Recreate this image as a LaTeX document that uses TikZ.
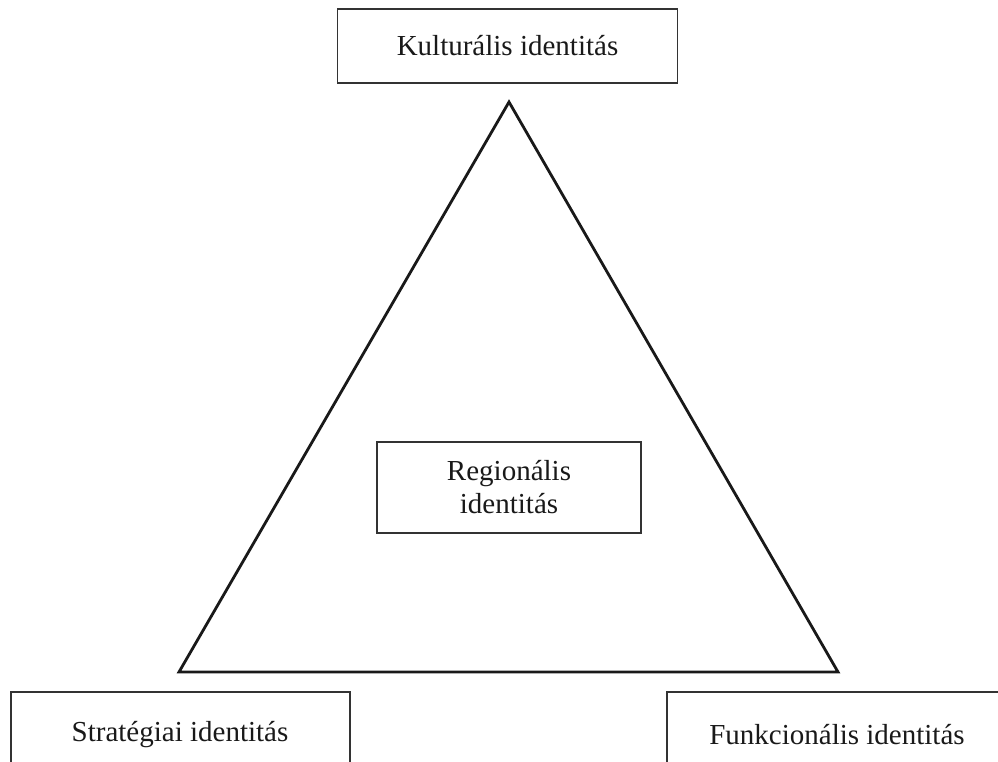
\documentclass[tikz,border=0pt]{standalone}
\usepackage{fontspec}
\setmainfont{Liberation Serif}
\begin{document}
\begin{tikzpicture}[x=1pt,y=-1pt,
  boxline/.style={draw=black!80,line width=1.2pt},
  lbl/.style={font=\fontsize{29}{33}\selectfont,text=black!90,inner sep=0pt,align=center},
  tri/.style={draw=black!90,line width=2.8pt,line join=miter}]
\useasboundingbox (0,0) rectangle (998,762);
% top box
\node[boxline,lbl,minimum width=340,minimum height=74] (kult) at (507.5,46) {Kulturális identitás};
% center box
\node[boxline,lbl,minimum width=264,minimum height=91] (reg) at (509,487.5) {Regionális\\identitás};
% triangle
\coordinate (apex) at (509,102);
\coordinate (bl) at (179,672);
\coordinate (br) at (838,672);
\draw[tri] (apex) -- (bl) -- (br) -- cycle;
% bottom left open box
\coordinate (slb) at (11,762);
\coordinate (slt) at (11,692);
\coordinate (srt) at (350,692);
\coordinate (srb) at (350,762);
\draw[boxline] (slb) -- (slt) -- (srt) -- (srb);
\node[lbl] (strat) at (180,735) {Stratégiai identitás};
% bottom right open box
\coordinate (flb) at (667,762);
\coordinate (flt) at (667,692);
\coordinate (frt) at (998,692);
\draw[boxline] (flb) -- (flt) -- (frt);
\node[lbl] (funk) at (837,735) {Funkcionális identitás};
\end{tikzpicture}
\end{document}
